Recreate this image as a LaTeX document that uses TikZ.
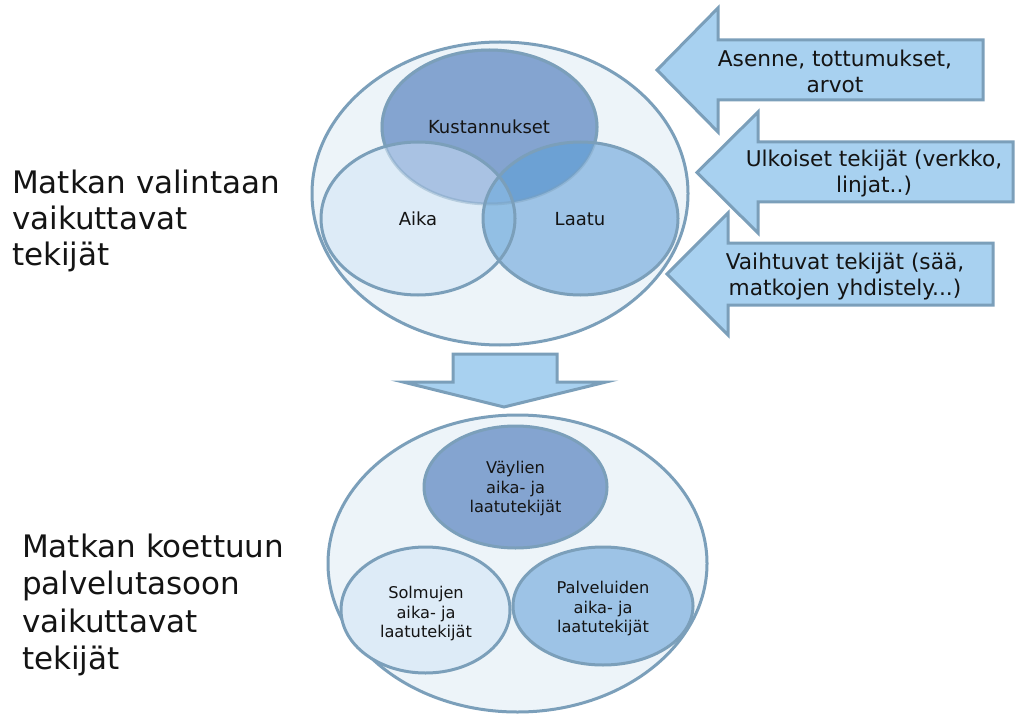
\documentclass[tikz,border=0pt]{standalone}
\usepackage{fontspec}
\setmainfont{DejaVu Sans}
\usetikzlibrary{shapes.geometric}
\definecolor{edge}{HTML}{7B9FBA}
\definecolor{outerfill}{HTML}{EDF4F9}
\definecolor{cmed}{HTML}{84A4D0}
\definecolor{clight}{HTML}{DDEBF7}
\definecolor{cmid}{HTML}{9DC3E6}
\definecolor{cka}{HTML}{A9C2E3}
\definecolor{ckl}{HTML}{6CA1D4}
\definecolor{cal}{HTML}{92BFE4}
\definecolor{call}{HTML}{82B2DE}
\definecolor{arrowfill}{HTML}{A8D1F0}
\definecolor{ink}{HTML}{141414}
\tikzset{
  bubble/.style={ellipse, inner sep=0pt, draw=edge, line width=3pt},
  bigtext/.style={font=\fontsize{31}{36}\selectfont, text=ink, align=left, inner sep=0pt},
  bigtextb/.style={font=\fontsize{31}{37.4}\selectfont, text=ink, align=left, inner sep=0pt},
  arrowtext/.style={font=\fontsize{21.7}{26}\selectfont, text=ink, align=center, inner sep=0pt},
  smalltext/.style={font=\fontsize{16.2}{19.5}\selectfont, text=ink, align=center, inner sep=0pt},
  vtext/.style={font=\fontsize{18}{20}\selectfont, text=ink, inner sep=0pt},
  blockarrow/.style={draw=edge, fill=arrowfill, line width=3pt, line join=miter},
}
\begin{document}
\begin{tikzpicture}[x=1pt,y=-1pt]
\useasboundingbox (0,0) rectangle (1016,719);
\fill[white] (0,0) rectangle (1016,719);

% ---------- top group ----------
\node[bubble, fill=outerfill, minimum width=376pt, minimum height=303pt] (topouter) at (500,193.5) {};
\node[ellipse, inner sep=0pt, fill=cmed, minimum width=215pt, minimum height=154pt] (kust) at (489.5,127) {};
\draw[edge, line width=3pt] (489.5,127) ellipse [x radius=107.5, y radius=77];
\node[ellipse, inner sep=0pt, fill=clight, minimum width=194pt, minimum height=153pt] (aika) at (418,218.5) {};
\node[ellipse, inner sep=0pt, fill=cmid, minimum width=195pt, minimum height=153pt] (laatu) at (580.5,218.5) {};
% overlaps
\begin{scope}
  \clip (489.5,127) ellipse [x radius=107.5, y radius=77];
  \fill[cka] (418,218.5) ellipse [x radius=97, y radius=76.5];
  \fill[ckl] (580.5,218.5) ellipse [x radius=97.5, y radius=76.5];
\end{scope}
\begin{scope}
  \clip (418,218.5) ellipse [x radius=97, y radius=76.5];
  \fill[cal] (580.5,218.5) ellipse [x radius=97.5, y radius=76.5];
  \clip (489.5,127) ellipse [x radius=107.5, y radius=77];
  \fill[call] (580.5,218.5) ellipse [x radius=97.5, y radius=76.5];
\end{scope}
% outlines
\draw[edge, line width=3pt, draw opacity=0.4] (489.5,127) ellipse [x radius=107.5, y radius=77];
\draw[edge, line width=3pt] (418,218.5) ellipse [x radius=97, y radius=76.5];
\draw[edge, line width=3pt] (580.5,218.5) ellipse [x radius=97.5, y radius=76.5];
\node[vtext] (kusttext) at (489,126.5) {Kustannukset};
\node[vtext] (aikatext) at (418,219) {Aika};
\node[vtext] (laatutext) at (580,219) {Laatu};

% ---------- right arrows ----------
\draw[blockarrow] (657,70) -- (718,8) -- (718,40) -- (983,40) -- (983,100) -- (718,100) -- (718,132) -- cycle;
\node[arrowtext] (a1) at (835,71) {Asenne, tottumukset,\\arvot};
\draw[blockarrow] (697,172.5) -- (758,112) -- (758,142) -- (1013,142) -- (1013,202) -- (758,202) -- (758,233) -- cycle;
\node[arrowtext] (a2) at (874,174) {Ulkoiset tekijät (verkko,\\linjat..)};
\draw[blockarrow] (667,274) -- (728,213) -- (728,243) -- (993,243) -- (993,305) -- (728,305) -- (728,335) -- cycle;
\node[arrowtext] (a3) at (845,276.5) {Vaihtuvat tekijät (sää,\\matkojen yhdistely...)};

% ---------- down arrow ----------
\draw[blockarrow] (453,354) -- (557,354) -- (557,382) -- (606,382) -- (504,407) -- (403,382) -- (453,382) -- cycle;

% ---------- bottom group ----------
\node[bubble, fill=outerfill, minimum width=379pt, minimum height=297pt] (botouter) at (517.5,563.5) {};
\node[bubble, fill=cmed, minimum width=183pt, minimum height=122pt] (vaylat) at (515.5,487) {};
\node[bubble, fill=clight, minimum width=169pt, minimum height=126pt] (solmut) at (425.5,610) {};
\node[bubble, fill=cmid, minimum width=180pt, minimum height=118pt] (palvelut) at (603,606) {};
\node[smalltext] (vaylattext) at (515.5,489) {Väylien\\aika- ja\\laatutekijät};
\node[smalltext] (solmuttext) at (426,614) {Solmujen\\aika- ja\\laatutekijät};
\node[smalltext] (palveluttext) at (603,609) {Palveluiden\\aika- ja\\laatutekijät};

% ---------- left labels ----------
\node[bigtext, anchor=west] (lab1) at (12,220.5) {Matkan valintaan\\vaikuttavat\\tekijät};
\node[bigtextb, anchor=west] (lab2) at (22,605) {Matkan koettuun\\palvelutasoon\\vaikuttavat\\tekijät};
\end{tikzpicture}
\end{document}
